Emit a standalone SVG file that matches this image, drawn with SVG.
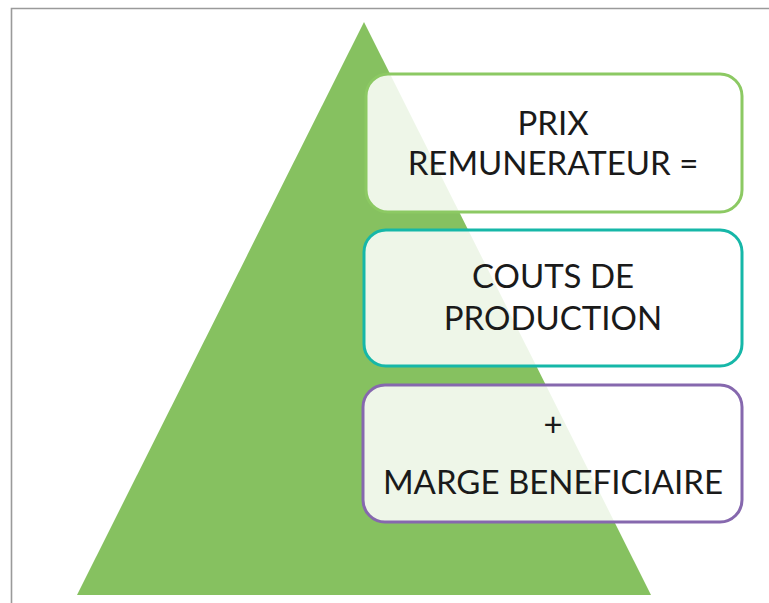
<svg xmlns="http://www.w3.org/2000/svg" width="769" height="603" viewBox="0 0 769 603">
<style>
.box{fill:#ffffff;fill-opacity:0.86;stroke-width:3}
.t{font-family:Lato,"Open Sans","Liberation Sans",sans-serif;font-size:33px;fill:#1a1a1a;text-anchor:middle}
</style>
<rect width="769" height="603" fill="#ffffff"/>
<path d="M11.5 610 V8.5 H780" fill="none" stroke="#9a9a9a" stroke-width="1.6"/>
<polygon id="pyramid" points="364,22 651,595 77,595" fill="#86c160"/>
<g id="box-prix">
<rect class="box" x="366" y="74" width="376" height="138" rx="22" stroke="#8cc963"/>
<text class="t" x="553" y="135">PRIX</text>
<text class="t" x="553" y="175">REMUNERATEUR =</text>
</g>
<g id="box-couts">
<rect class="box" x="364" y="230" width="378" height="136" rx="22" stroke="#16b7a8"/>
<text class="t" x="553" y="288">COUTS DE</text>
<text class="t" x="553" y="330">PRODUCTION</text>
</g>
<g id="box-marge">
<rect class="box" x="363" y="385" width="379" height="137" rx="22" stroke="#8668ae"/>
<text class="t" x="553" y="436">+</text>
<text class="t" x="553" y="494">MARGE BENEFICIAIRE</text>
</g>
<g id="connectors"></g>
</svg>
